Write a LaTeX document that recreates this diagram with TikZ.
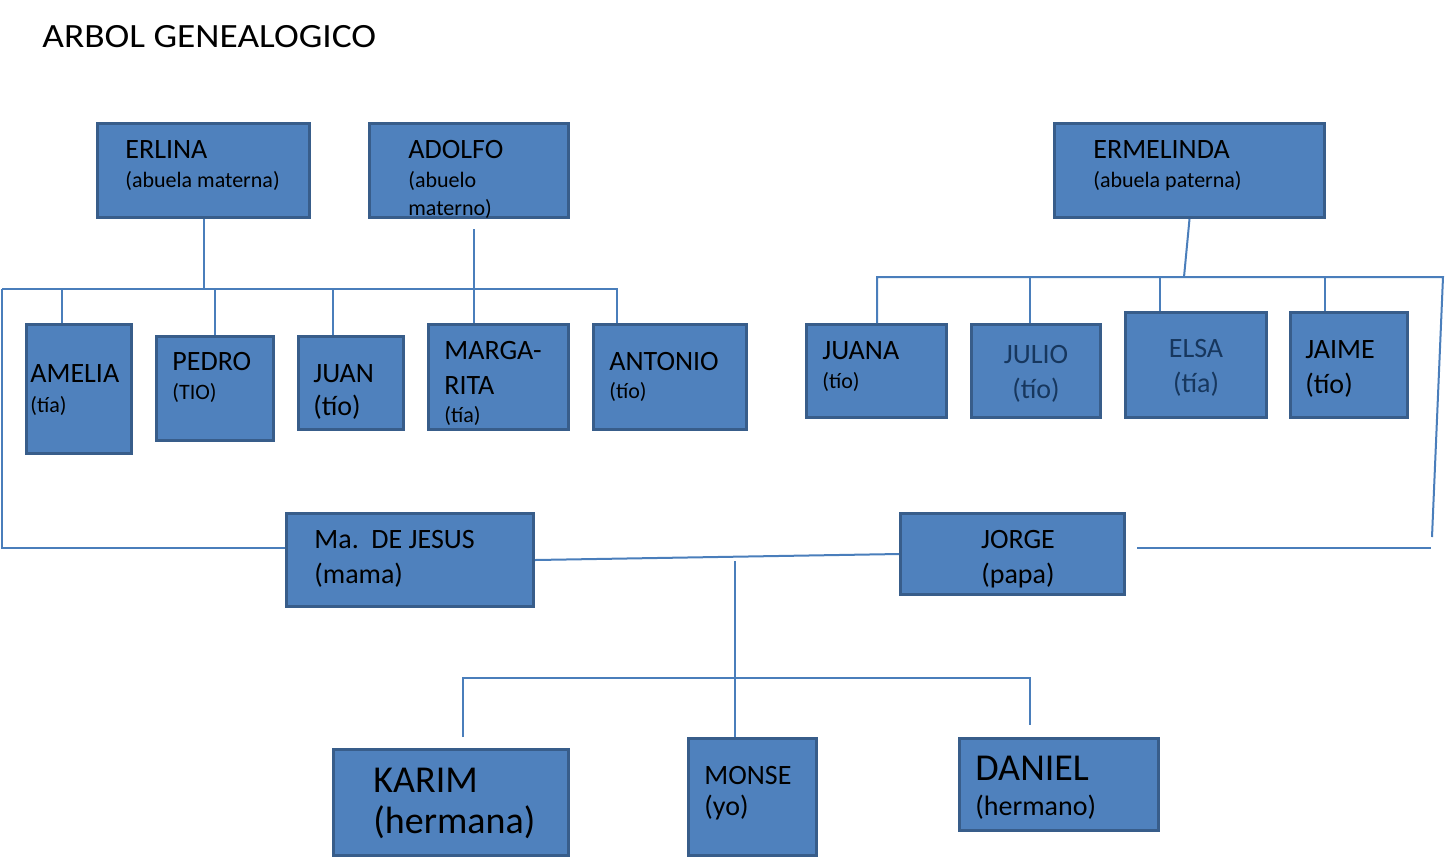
\documentclass[tikz,border=0pt]{standalone}
\usepackage{fontspec}
\setmainfont{Carlito}
\usetikzlibrary{fit}
\definecolor{boxfill}{HTML}{4F81BD}
\definecolor{boxline}{HTML}{385D8A}
\definecolor{conn}{HTML}{4A7EBB}
\definecolor{navy}{HTML}{17375E}
\tikzset{
  box/.style={draw=boxline, fill=boxfill, line width=1.5pt, inner sep=0pt, rectangle},
  lnk/.style={draw=conn, line width=1pt},
  tl/.style={anchor=base west, inner sep=0pt},
  tc/.style={anchor=base, inner sep=0pt},
  big/.style={font=\fontsize{14}{16}\selectfont},
  small/.style={font=\fontsize{11}{13}\selectfont},
  huge/.style={font=\fontsize{19}{22}\selectfont},
}
\begin{document}
\begin{tikzpicture}[x=0.5pt,y=-0.5pt]
\useasboundingbox (0,0) rectangle (1446,859);
% title
\node[tl, font=\fontsize{17}{20}\selectfont] (title) at (42,47) {\scalebox{1.1}[1]{ARBOL GENEALOGICO}};
% boxes
\node[box, fit={(97.5,123.5) (309.5,217.5)}] (erlina) {};
\node[box, fit={(369.5,123.5) (568.5,217.5)}] (adolfo) {};
\node[box, fit={(1054.5,123.5) (1324.5,217.5)}] (ermelinda) {};
\node[box, fit={(26.5,324.5) (131.5,453.5)}] (amelia) {};
\node[box, fit={(156.5,336.5) (273.5,440.5)}] (pedro) {};
\node[box, fit={(298.5,336.5) (403.5,429.5)}] (juan) {};
\node[box, fit={(428.5,324.5) (568.5,429.5)}] (margarita) {};
\node[box, fit={(593.5,324.5) (746.5,429.5)}] (antonio) {};
\node[box, fit={(806.5,324.5) (946.5,417.5)}] (juana) {};
\node[box, fit={(971.5,324.5) (1100.5,417.5)}] (julio) {};
\node[box, fit={(1125.5,312.5) (1266.5,417.5)}] (elsa) {};
\node[box, fit={(1290.5,312.5) (1407.5,417.5)}] (jaime) {};
\node[box, fit={(286.5,513.5) (533.5,606.5)}] (mama) {};
\node[box, fit={(900.5,513.5) (1124.5,594.5)}] (jorge) {};
\node[box, fit={(333.5,749.5) (568.5,855.5)}] (karim) {};
\node[box, fit={(688.5,738.5) (816.5,855.5)}] (monse) {};
\node[box, fit={(959.5,738.5) (1158.5,830.5)}] (daniel) {};
% texts
\node[tl,big] (t1) at (125,158) {ERLINA};
\node[tl,small] (t2) at (125,187) {(abuela materna)};
\node[tl,big] (t3) at (408,158) {ADOLFO};
\node[tl,small] (t4) at (408,187) {(abuelo};
\node[tl,small] (t5) at (408,215) {materno)};
\node[tl,big] (t6) at (1093,158) {ERMELINDA};
\node[tl,small] (t7) at (1093,187) {(abuela paterna)};
\node[tl,big] (t8) at (30,382) {AMELIA};
\node[tl,small] (t9) at (30,412) {(tía)};
\node[tl,big] (t10) at (172,370) {PEDRO};
\node[tl,small] (t11) at (172,399) {(TIO)};
\node[tl,big] (t12) at (313,382) {JUAN};
\node[tl,big] (t13) at (313,415) {(tío)};
\node[tl,big] (t14) at (444,359) {MARGA-};
\node[tl,big] (t15) at (444,394) {RITA};
\node[tl,small] (t16) at (444,422) {(tía)};
\node[tl,big] (t17) at (609,370) {ANTONIO};
\node[tl,small] (t18) at (609,398) {(tío)};
\node[tl,big] (t19) at (822,359) {JUANA};
\node[tl,small] (t20) at (822,388) {(tío)};
\node[tc,big,text=navy] (t21) at (1036,363) {JULIO};
\node[tc,big,text=navy] (t22) at (1036,398) {(tío)};
\node[tc,big,text=navy] (t23) at (1196,357) {ELSA};
\node[tc,big,text=navy] (t24) at (1196,392) {(tía)};
\node[tl,big] (t25) at (1305,358) {JAIME};
\node[tl,big] (t26) at (1305,393) {(tío)};
\node[tl,big] (t27) at (314,548) {Ma.\ \ DE JESUS};
\node[tl,big] (t28) at (314,583) {(mama)};
\node[tc,big] (t29) at (1018,548) {JORGE};
\node[tc,big] (t30) at (1018,583) {(papa)};
\node[tl,huge] (t31) at (373,792) {KARIM};
\node[tl,huge] (t32) at (373,833) {(hermana)};
\node[tl,big] (t33) at (704,784) {MONSE};
\node[tl,big] (t34) at (704,815) {(yo)};
\node[tl,huge] (t35) at (975,780) {DANIEL};
\node[tl,big] (t36) at (975,815) {(hermano)};
% coordinates
\coordinate (b1L) at (2,289);
\coordinate (b1R) at (617,289);
\coordinate (adtop) at (474,229);
\coordinate (dA) at (62,289);
\coordinate (dP) at (215,289);
\coordinate (dJ) at (333,289);
\coordinate (lc) at (2,548);
\coordinate (b2L) at (877,277);
\coordinate (b2J) at (1184,277);
\coordinate (b2R) at (1443,277);
\coordinate (rc) at (1432,537);
\coordinate (rl1) at (1137,548);
\coordinate (rl2) at (1431,548);
\coordinate (d2b) at (1030,277);
\coordinate (d2c) at (1160,277);
\coordinate (d2d) at (1325,277);
\coordinate (kid) at (735,561);
\coordinate (b3L) at (463,678);
\coordinate (b3R) at (1030,678);
\coordinate (b3Le) at (463,737);
\coordinate (b3Re) at (1030,725);
% connectors maternal
\draw[lnk] (erlina.south) -- (erlina.south |- b1L);
\draw[lnk] (adtop) -- (adtop |- margarita.north);
\draw[lnk] (b1L) -- (b1R) -- (b1R |- antonio.north);
\draw[lnk] (dA) -- (dA |- amelia.north);
\draw[lnk] (dP) -- (dP |- pedro.north);
\draw[lnk] (dJ) -- (dJ |- juan.north);
\draw[lnk] (b1L) -- (lc) -- (lc -| mama.west);
% paternal
\draw[lnk] (ermelinda.south) -- (b2J);
\draw[lnk] (b2L |- juana.north) -- (b2L) -- (b2R) -- (rc);
\draw[lnk] (d2b) -- (d2b |- julio.north);
\draw[lnk] (d2c) -- (d2c |- elsa.north);
\draw[lnk] (d2d) -- (d2d |- jaime.north);
\draw[lnk] (rl1) -- (rl2);
% parents and children
\draw[lnk] (mama.east) -- (jorge.west);
\draw[lnk] (kid) -- (kid |- monse.north);
\draw[lnk] (b3Le) -- (b3L) -- (b3R) -- (b3Re);
\end{tikzpicture}
\end{document}
